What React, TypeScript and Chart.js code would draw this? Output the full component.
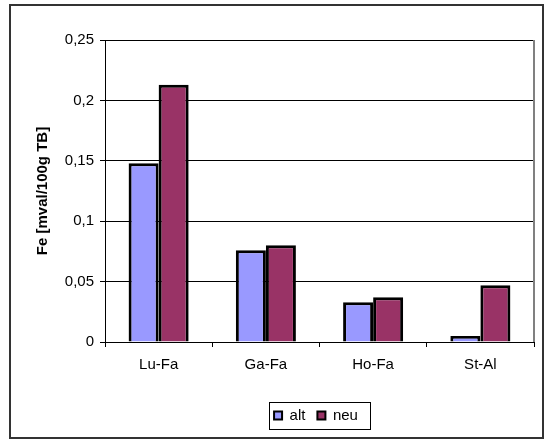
import React, { useEffect, useRef } from "react";
import { Chart, registerables } from "chart.js";

Chart.register(...registerables);

const categories = ["Lu-Fa", "Ga-Fa", "Ho-Fa", "St-Al"];
const seriesNames = ["alt", "neu"];
const altValues = [0.148, 0.076, 0.033, 0.005];
const neuValues = [0.213, 0.08, 0.037, 0.047];
const yTickLabels = ["0", "0,05", "0,1", "0,15", "0,2", "0,25"];
const yAxisTitle = "Fe [mval/100g TB]";

const FONT = "'Liberation Sans', Arial, Helvetica, sans-serif";

export default function App() {
  const ref = useRef<HTMLCanvasElement | null>(null);

  useEffect(() => {
    if (!ref.current) return;

    const framePlugin = {
      id: "frame",
      beforeDraw(chart: any) {
        const ctx = chart.ctx;
        ctx.save();
        ctx.fillStyle = "#ffffff";
        ctx.fillRect(0, 0, chart.width, chart.height);
        ctx.restore();
      },
      afterLayout(chart: any) {
        const L = chart.legend;
        if (!L) return;
        const target = 316;
        const dx = target - (L.left + L.right) / 2;
        L.left += dx;
        L.right += dx;
      },
      beforeDatasetsDraw(chart: any) {
        const { ctx, chartArea } = chart;
        ctx.save();
        ctx.strokeStyle = "#808080";
        ctx.lineWidth = 2;
        ctx.beginPath();
        ctx.moveTo(chartArea.right, chartArea.top);
        ctx.lineTo(chartArea.right, chartArea.bottom);
        ctx.stroke();
        ctx.restore();
      },
      afterDraw(chart: any) {
        const ctx = chart.ctx;
        ctx.save();
        const hb = chart.legend && chart.legend.legendHitBoxes;
        if (hb && hb.length) {
          const first = hb[0];
          const last = hb[hb.length - 1];
          const cy = first.top + first.height / 2;
          const left = first.left - 5;
          const right = last.left + last.width + 12;
          ctx.strokeStyle = "#000000";
          ctx.lineWidth = 1;
          ctx.strokeRect(Math.round(left) + 0.5, Math.round(cy - 13.5) + 0.5, Math.round(right - left), 27);
        }
        ctx.strokeStyle = "#333333";
        ctx.lineWidth = 2;
        ctx.strokeRect(10, 5, 533, 433);
        ctx.restore();
      },
    };

    Chart.defaults.font.family = FONT;
    Chart.defaults.font.size = 15;
    Chart.defaults.color = "#000000";

    const chart = new Chart(ref.current, {
      type: "bar",
      data: {
        labels: categories,
        datasets: [
          {
            label: seriesNames[0],
            data: altValues,
            backgroundColor: "#9999FF",
            borderColor: "#000000",
            borderWidth: 3,
          },
          {
            label: seriesNames[1],
            data: neuValues,
            backgroundColor: "#993366",
            borderColor: "#000000",
            borderWidth: 3,
          },
        ],
      },
      options: {
        responsive: false,
        animation: false,
        layout: { padding: { left: 30, right: 11, top: 40, bottom: 6 } },
        datasets: {
          bar: { categoryPercentage: 0.56, barPercentage: 1 },
        },
        plugins: {
          tooltip: { enabled: false },
          title: { display: false },
          legend: {
            display: true,
            position: "bottom",
            labels: {
              boxWidth: 8,
              boxHeight: 8,
              padding: 12,
              color: "#000000",
              font: { size: 15, family: FONT },
              generateLabels(chart: any) {
                const items = Chart.defaults.plugins.legend.labels.generateLabels(chart);
                items.forEach((it: any) => {
                  it.lineWidth = 2;
                });
                return items;
              },
            },
          },
        },
        scales: {
          x: {
            offset: true,
            afterFit(scale: any) {
              scale.height = 54;
            },
            grid: {
              offset: true,
              drawOnChartArea: false,
              drawTicks: true,
              tickLength: 5,
              color: "#000000",
            },
            border: { display: true, color: "#000000", width: 1 },
            ticks: { padding: 9, font: { size: 15, family: FONT }, color: "#000000", maxRotation: 0 },
          },
          y: {
            min: 0,
            max: 0.25,
            afterFit(scale: any) {
              scale.width = 75;
            },
            grid: {
              color: "#000000",
              lineWidth: 1,
              tickLength: 5,
              drawTicks: true,
            },
            border: { display: true, color: "#000000", width: 1 },
            ticks: {
              stepSize: 0.05,
              padding: 6,
              font: { size: 15, family: FONT },
              color: "#000000",
              callback: (_v: any, i: number) => yTickLabels[i],
            },
            title: {
              display: true,
              text: yAxisTitle,
              font: { size: 15, weight: "bold", family: FONT },
              color: "#000000",
              padding: { top: 4, bottom: 4 },
            },
          },
        },
      },
      plugins: [framePlugin],
    } as any);

    return () => chart.destroy();
  }, []);

  return (
    <div style={{ position: "fixed", left: 0, top: 0, width: 545, height: 439 }}>
      <canvas ref={ref} width={545} height={439} style={{ display: "block" }} />
    </div>
  );
}
